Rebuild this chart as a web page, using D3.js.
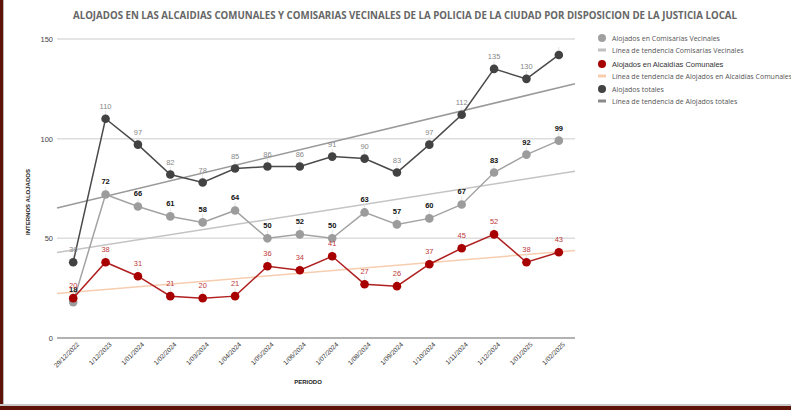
<!DOCTYPE html>
<html>
<head>
<meta charset="utf-8">
<script src="https://cdn.jsdelivr.net/npm/d3@7"></script>
<style>
  body { margin: 0; background: #fff; }
  svg { display: block; font-family: "Liberation Sans", Arial, sans-serif; }
</style>
</head>
<body>
<div id="chart"></div>
<script>
// Periods on the x axis
const periods = ["29/12/2022", "1/12/2023", "1/01/2024", "1/02/2024", "1/03/2024", "1/04/2024",
  "1/05/2024", "1/06/2024", "1/07/2024", "1/08/2024", "1/09/2024", "1/10/2024",
  "1/11/2024", "1/12/2024", "1/01/2025", "1/02/2025"];

// Series values
const comisarias = [18, 72, 66, 61, 58, 64, 50, 52, 50, 63, 57, 60, 67, 83, 92, 99];
const alcaidias = [20, 38, 31, 21, 20, 21, 36, 34, 41, 27, 26, 37, 45, 52, 38, 43];
const totales = [38, 110, 97, 82, 78, 85, 86, 86, 91, 90, 83, 97, 112, 135, 130, 142];

const yTicks = [0, 50, 100, 150];

const width = 791;
const height = 410;
const margin = { top: 39, right: 216, bottom: 72, left: 57 };

const svg = d3.select("#chart")
  .append("svg")
  .attr("width", width)
  .attr("height", height);

// frame: maroon left bar and bottom band
svg.append("rect").attr("x", 0).attr("y", 0).attr("width", 3).attr("height", height).attr("fill", "#5e1208");
svg.append("rect").attr("x", 3).attr("y", 0).attr("width", 1).attr("height", 405).attr("fill", "#bbb");
svg.append("rect").attr("x", 0).attr("y", 404).attr("width", width).attr("height", 2).attr("fill", "#c8c8c8");
svg.append("rect").attr("x", 0).attr("y", 406).attr("width", width).attr("height", 4).attr("fill", "#5e1208");

// Title
svg.append("text")
  .attr("x", 405)
  .attr("y", 19)
  .attr("text-anchor", "middle")
  .attr("font-family", "'Open Sans', sans-serif")
  .attr("font-size", 10.5)
  .attr("font-weight", "bold")
  .attr("fill", "#666")
  .attr("textLength", 664)
  .attr("lengthAdjust", "spacingAndGlyphs")
  .text("ALOJADOS EN LAS ALCAIDIAS COMUNALES Y COMISARIAS VECINALES DE LA POLICIA DE LA CIUDAD POR DISPOSICION DE LA JUSTICIA LOCAL");

const x = d3.scalePoint()
  .domain(periods)
  .range([margin.left, width - margin.right])
  .padding(0.5);

const y = d3.scaleLinear()
  .domain([0, 150])
  .range([338, 39]);

const x0 = margin.left, x1 = width - margin.right;

// gridlines
svg.append("g")
  .selectAll("line")
  .data(yTicks.filter(d => d > 0))
  .enter()
  .append("line")
  .attr("x1", x0).attr("x2", x1)
  .attr("y1", d => y(d)).attr("y2", d => y(d))
  .attr("stroke", "#ddd")
  .attr("stroke-width", 1.5);

svg.append("line")
  .attr("x1", x0).attr("x2", x1)
  .attr("y1", y(0)).attr("y2", y(0))
  .attr("stroke", "#999")
  .attr("stroke-width", 1.5);

// Y axis labels
const yAxis = svg.append("g")
  .attr("transform", `translate(${x0 - 4},0)`)
  .call(d3.axisLeft(y).tickValues(yTicks).tickSize(0).tickPadding(0));
yAxis.select(".domain").remove();
yAxis.selectAll("text").attr("font-size", 7.5).attr("fill", "#444")
  .attr("font-family", "'Liberation Sans', Arial, sans-serif");

// X axis labels
const xAxis = svg.append("g")
  .attr("transform", `translate(0,${y(0)})`)
  .call(d3.axisBottom(x).tickSize(0).tickPadding(0));
xAxis.select(".domain").remove();
xAxis.selectAll("text")
  .attr("font-size", 6.5)
  .attr("fill", "#333")
  .attr("font-family", "'Liberation Sans', Arial, sans-serif")
  .attr("text-anchor", "end")
  .attr("y", 0)
  .attr("dy", 0)
  .attr("transform", "translate(6,7) rotate(-45)");

// axis titles
svg.append("text")
  .attr("transform", "translate(30,202) rotate(-90)")
  .attr("text-anchor", "middle")
  .attr("font-size", 6)
  .attr("font-weight", "bold")
  .attr("fill", "#222")
  .text("INTERNOS ALOJADOS");

svg.append("text")
  .attr("x", 308)
  .attr("y", 384)
  .attr("text-anchor", "middle")
  .attr("font-size", 6)
  .attr("font-weight", "bold")
  .attr("fill", "#222")
  .text("PERIODO");

// least squares trend over the period index, drawn across the plot width
function trend(values) {
  const mx = d3.mean(values, (d, i) => i);
  const my = d3.mean(values);
  const sxy = d3.sum(values, (d, i) => (i - mx) * (d - my));
  const sxx = d3.sum(values, (d, i) => (i - mx) * (i - mx));
  const b = sxy / sxx;
  const a = my - b * mx;
  const step = x.step();
  const idx = xp => (xp - x(periods[0])) / step;
  return [[x0, a + b * idx(x0)], [x1, a + b * idx(x1)]];
}

const trends = [
  { values: comisarias, color: "#c4c4c4" },
  { values: alcaidias, color: "#f7cdb0" },
  { values: totales, color: "#9a9a9a" }
];

trends.forEach(t => {
  svg.append("path")
    .datum(trend(t.values))
    .attr("d", d3.line().x(d => d[0]).y(d => y(d[1])))
    .attr("fill", "none")
    .attr("stroke", t.color)
    .attr("stroke-width", 1.5);
});

const series = [
  { values: comisarias, line: "#a3a3a3", dot: "#9c9c9c", label: "#111", weight: "bold" },
  { values: alcaidias, line: "#b02020", dot: "#a80000", label: "#c0393b", weight: "normal" },
  { values: totales, line: "#4a4a4a", dot: "#424242", label: "#888", weight: "normal", hideLast: true }
];

// leader ticks for labels
series.forEach(s => {
  svg.append("g")
    .selectAll("line")
    .data(s.values)
    .enter()
    .append("line")
    .attr("x1", (d, i) => x(periods[i])).attr("x2", (d, i) => x(periods[i]))
    .attr("y1", d => y(d) - 8).attr("y2", d => y(d) - 3)
    .attr("stroke", "#e4e4e4")
    .attr("stroke-width", 1);
});

series.forEach(s => {
  svg.append("path")
    .datum(s.values)
    .attr("d", d3.line().x((d, i) => x(periods[i])).y(d => y(d)))
    .attr("fill", "none")
    .attr("stroke", s.line)
    .attr("stroke-width", 1.5);

  svg.append("g")
    .selectAll("circle")
    .data(s.values)
    .enter()
    .append("circle")
    .attr("cx", (d, i) => x(periods[i]))
    .attr("cy", d => y(d))
    .attr("r", 4.3)
    .attr("fill", s.dot);

  svg.append("g")
    .selectAll("text")
    .data(s.values.filter((d, i) => !(s.hideLast && i === s.values.length - 1)))
    .enter()
    .append("text")
    .attr("x", (d, i) => x(periods[i]))
    .attr("y", d => y(d) - 10)
    .attr("text-anchor", "middle")
    .attr("font-size", 7.5)
    .attr("font-weight", s.weight)
    .attr("fill", s.label)
    .text(d => d);
});

// Legend
const legendItems = [
  { name: "Alojados en Comisarías Vecinales", type: "dot", color: "#a0a0a0" },
  { name: "Línea de tendencia Comisarías Vecinales", type: "bar", color: "#c0c0c0" },
  { name: "Alojados en Alcaidías Comunales", type: "dot", color: "#a80000", arial: true },
  { name: "Línea de tendencia de Alojados en Alcaidías Comunales", type: "bar", color: "#f7cdb0" },
  { name: "Alojados totales", type: "dot", color: "#424242" },
  { name: "Línea de tendencia de Alojados totales", type: "bar", color: "#8a8a8a" }
];
const legendY = [38, 50, 64, 76, 89, 101];

const legend = svg.append("g");
legendItems.forEach((d, i) => {
  const g = legend.append("g").attr("transform", `translate(602,${legendY[i]})`);
  if (d.type === "dot") {
    g.append("circle").attr("r", 4).attr("fill", d.color);
  } else {
    g.append("rect").attr("x", -4).attr("y", -1.5).attr("width", 8).attr("height", 3).attr("fill", d.color);
  }
  g.append("text")
    .attr("x", 10)
    .attr("y", 2.5)
    .attr("font-size", d.arial ? 7.5 : 7)
    .attr("fill", d.arial ? "#333" : "#555")
    .attr("font-family", d.arial ? "'Liberation Sans', Arial, sans-serif" : "'Open Sans', sans-serif")
    .text(d.name);
});
</script>
</body>
</html>
